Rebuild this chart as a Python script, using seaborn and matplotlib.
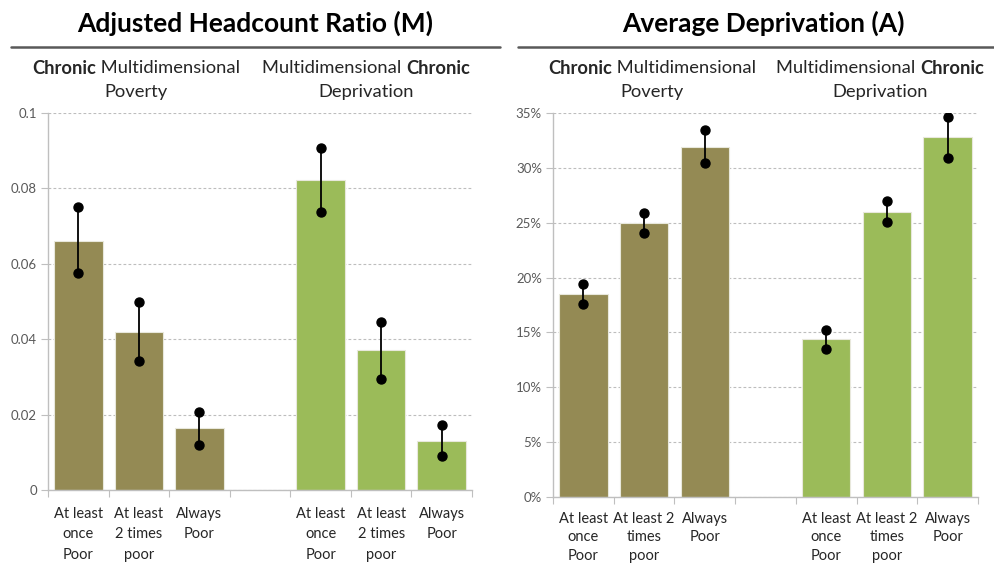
import matplotlib
matplotlib.use("Agg")
import matplotlib.pyplot as plt
import seaborn as sns
import pandas as pd
from matplotlib.ticker import FuncFormatter, MultipleLocator

sns.set_theme(style="white")
plt.rcParams['font.family'] = ['Lato', 'DejaVu Sans']

slots = ["c1", "c2", "c3", "gap", "c5", "c6", "c7"]
bar_slots = ["c1", "c2", "c3", "c5", "c6", "c7"]
groups = ["CMP", "CMP", "CMP", "MCD", "MCD", "MCD"]
palette = {"CMP": "#948A54", "MCD": "#9BBB59"}

labels_M = ["At least\nonce\nPoor", "At least\n2 times\npoor", "Always\nPoor", "",
            "At least\nonce\nPoor", "At least\n2 times\npoor", "Always\nPoor"]
labels_A = ["At least\nonce\nPoor", "At least 2\ntimes\npoor", "Always\nPoor", "",
            "At least\nonce\nPoor", "At least 2\ntimes\npoor", "Always\nPoor"]

M_val = [0.0661, 0.0420, 0.0164, 0.0822, 0.0371, 0.0131]
M_lo = [0.0575, 0.0341, 0.0119, 0.0737, 0.0294, 0.0091]
M_hi = [0.0750, 0.0498, 0.0208, 0.0906, 0.0446, 0.0172]

A_val = [0.1848, 0.2500, 0.3190, 0.1437, 0.2600, 0.3280]
A_lo = [0.1757, 0.2405, 0.3045, 0.1350, 0.2510, 0.3096]
A_hi = [0.1940, 0.2590, 0.3350, 0.1520, 0.2700, 0.3470]

W, H = 995, 563
fig = plt.figure(figsize=(W / 100, H / 100), dpi=100)

def px_axes(x0, x1, ytop, ybot):
    return fig.add_axes([x0 / W, 1 - ybot / H, (x1 - x0) / W, (ybot - ytop) / H])

axM = px_axes(48, 472, 113, 490)
axA = px_axes(553, 978, 113.3, 496.7)

def draw_panel(ax, vals, lo, hi, labels, ymax, step, fmt, lsize, lspace, lpad):
    df = pd.DataFrame({"slot": bar_slots, "val": vals, "group": groups})
    sns.barplot(data=df, x="slot", y="val", hue="group", order=slots,
                palette=palette, dodge=False, width=0.8, legend=False, saturation=1,
                edgecolor="#E8E8DC", linewidth=0.8, ax=ax, zorder=2)
    pos = [slots.index(s) for s in bar_slots]
    ax.vlines(pos, lo, hi, color="black", linewidth=1.3, zorder=3)
    ax.scatter(pos + pos, lo + hi, s=42, color="black", zorder=4)
    ax.set_xlim(-0.5, 6.5)
    ax.set_ylim(0, ymax)
    ax.yaxis.set_major_locator(MultipleLocator(step))
    ax.yaxis.set_major_formatter(FuncFormatter(fmt))
    ax.grid(axis="y", color="#BDBDBD", linestyle=(0, (2.5, 2)), linewidth=0.8, zorder=0)
    ax.set_axisbelow(True)
    ax.set_xlabel("")
    ax.set_ylabel("")
    ax.set_xticks([i - 0.5 for i in range(8)])
    ax.set_xticklabels([])
    ax.set_xticks(range(7), minor=True)
    ax.set_xticklabels(labels, minor=True, fontsize=lsize, color="#262626",
                       linespacing=lspace, va="top")
    ax.tick_params(axis="x", which="major", length=5, width=0.8, color="#BFBFBF",
                   direction="out", bottom=True)
    ax.tick_params(axis="x", which="minor", length=0, pad=lpad)
    ax.tick_params(axis="y", length=5, width=0.8, color="#BFBFBF", direction="out",
                   left=True, labelsize=9.5, labelcolor="#595959", pad=3)
    for sp in ["top", "right"]:
        ax.spines[sp].set_visible(False)
    for sp in ["left", "bottom"]:
        ax.spines[sp].set_color("#BFBFBF")
        ax.spines[sp].set_linewidth(1.0)

draw_panel(axM, M_val, M_lo, M_hi, labels_M, 0.1, 0.02,
           lambda v, p: "0" if abs(v) < 1e-9 else ("0.1" if abs(v - 0.1) < 1e-9 else f"{v:.2f}"),
           10.5, 1.6, 12)
draw_panel(axA, A_val, A_lo, A_hi, labels_A, 0.35, 0.05,
           lambda v, p: f"{v * 100:.0f}%", 10.5, 1.4, 11)

# Titles and separator lines
fig.text(255 / W, 1 - 23 / H, "Adjusted Headcount Ratio (M)", ha="center", va="center",
         fontsize=19, fontweight="bold", color="black")
fig.text(763 / W, 1 - 23 / H, "Average Deprivation (A)", ha="center", va="center",
         fontsize=19, fontweight="bold", color="black")
fig.add_artist(plt.Line2D([11 / W, 500 / W], [1 - 47 / H, 1 - 47 / H],
                          color="#595959", linewidth=1.8))
fig.add_artist(plt.Line2D([518 / W, 995 / W], [1 - 47 / H, 1 - 47 / H],
                          color="#595959", linewidth=1.8))

fig.canvas.draw()
renderer = fig.canvas.get_renderer()

def mixed_line(cx, cy, parts, size=12):
    texts = []
    for s, w in parts:
        t = fig.text(0, 1 - cy / H, s, ha="left", va="center", fontsize=size,
                     fontweight=w, color="#262626")
        texts.append(t)
    widths = [t.get_window_extent(renderer).width for t in texts]
    total = sum(widths)
    x = cx - total / 2
    for t, w in zip(texts, widths):
        t.set_x(x / W)
        x += w

sub_size = 13.2
mixed_line(136, 68, [("Chronic", "bold"), (" Multidimensional", "normal")], sub_size)
mixed_line(136, 92, [("Poverty", "normal")], sub_size)
mixed_line(366, 68, [("Multidimensional ", "normal"), ("Chronic", "bold")], sub_size)
mixed_line(366, 92, [("Deprivation", "normal")], sub_size)
mixed_line(652, 68, [("Chronic", "bold"), (" Multidimensional", "normal")], sub_size)
mixed_line(652, 92, [("Poverty", "normal")], sub_size)
mixed_line(880, 68, [("Multidimensional ", "normal"), ("Chronic", "bold")], sub_size)
mixed_line(880, 92, [("Deprivation", "normal")], sub_size)

fig.savefig("out.png", dpi=100)
